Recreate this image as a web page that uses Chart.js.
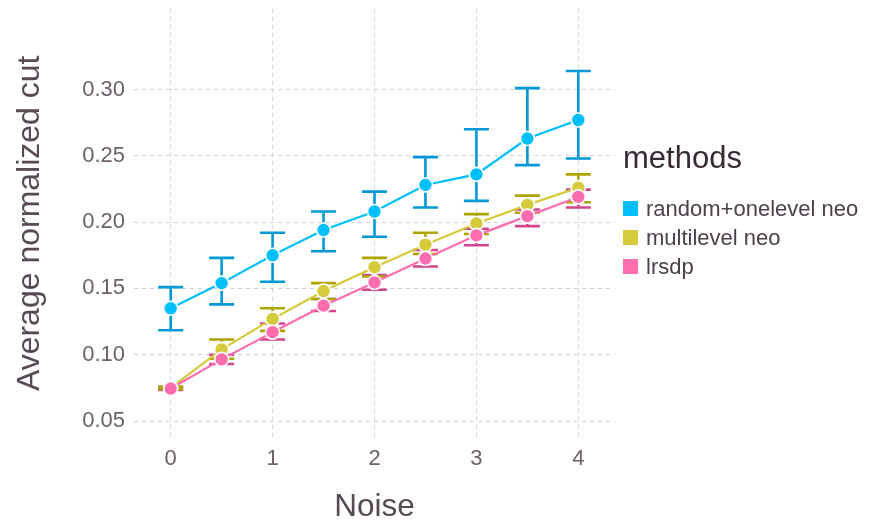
<!DOCTYPE html>
<html>
<head>
<meta charset="utf-8">
<title>Average normalized cut vs noise</title>
<script src="https://cdn.jsdelivr.net/npm/chart.js@4/dist/chart.umd.min.js"></script>
<style>
  html, body { margin: 0; padding: 0; background: #ffffff; }
  #wrap { width: 869px; height: 526px; }
</style>
</head>
<body>
<div id="wrap"><canvas id="c" width="869" height="526"></canvas></div>
<script>
// Noise levels on the x axis
const noise = [0, 0.5, 1, 1.5, 2, 2.5, 3, 3.5, 4];

// random+onelevel neo: mean and error range
const randomMean = [0.135, 0.154, 0.175, 0.194, 0.208, 0.228, 0.236, 0.263, 0.277];
const randomLo   = [0.1185, 0.138, 0.155, 0.178, 0.189, 0.211, 0.216, 0.243, 0.248];
const randomHi   = [0.151, 0.173, 0.192, 0.208, 0.223, 0.249, 0.270, 0.301, 0.314];

// multilevel neo
const multiMean = [0.075, 0.104, 0.127, 0.148, 0.166, 0.183, 0.199, 0.213, 0.226];
const multiLo   = [0.074, 0.097, 0.118, 0.142, 0.159, 0.176, 0.191, 0.207, 0.215];
const multiHi   = [0.076, 0.1115, 0.135, 0.154, 0.173, 0.192, 0.206, 0.220, 0.236];

// lrsdp
const lrsdpMean = [0.0745, 0.0965, 0.117, 0.137, 0.1545, 0.1725, 0.190, 0.2045, 0.219];
const lrsdpLo   = [0.0735, 0.093, 0.1115, 0.133, 0.149, 0.1665, 0.1825, 0.197, 0.211];
const lrsdpHi   = [0.0755, 0.100, 0.1235, 0.142, 0.160, 0.179, 0.195, 0.2095, 0.2245];

// Tick values
const xTicks = [0, 1, 2, 3, 4];
const yTicks = [0.05, 0.10, 0.15, 0.20, 0.25, 0.30];

const methodNames = ['random+onelevel neo', 'multilevel neo', 'lrsdp'];

const FONT = '"Liberation Sans", Arial, Helvetica, sans-serif';
const TICK_COLOR = '#6c606b';
const TITLE_COLOR = '#564a55';
const GRID_COLOR = '#d0d0e0';

function points(ys) {
  return noise.map((x, i) => ({ x: x, y: ys[i] }));
}

function makeSeries(label, mean, lo, hi, color, barColor, order) {
  return {
    label: label,
    data: points(mean),
    errLo: lo,
    errHi: hi,
    errColor: barColor,
    borderColor: color,
    backgroundColor: color,
    borderWidth: 2.2,
    pointRadius: 7,
    pointHoverRadius: 7,
    pointBackgroundColor: color,
    pointBorderColor: '#ffffff',
    pointBorderWidth: 1.6,
    tension: 0,
    fill: false,
    order: order
  };
}

// Vertical error bars with caps, drawn beneath the lines and points
const errorBars = {
  id: 'errorBars',
  beforeDatasetsDraw(chart) {
    const ctx = chart.ctx;
    const xs = chart.scales.x, ys = chart.scales.y;
    const cap = 12.5;
    ctx.save();
    chart.data.datasets.slice().reverse().forEach(ds => {
      ctx.strokeStyle = ds.errColor;
      ctx.lineWidth = 2.6;
      ds.data.forEach((p, i) => {
        const px = xs.getPixelForValue(p.x);
        const yl = ys.getPixelForValue(ds.errLo[i]);
        const yh = ys.getPixelForValue(ds.errHi[i]);
        ctx.beginPath();
        ctx.moveTo(px, yl); ctx.lineTo(px, yh);
        ctx.moveTo(px - cap, yl); ctx.lineTo(px + cap, yl);
        ctx.moveTo(px - cap, yh); ctx.lineTo(px + cap, yh);
        ctx.stroke();
      });
    });
    ctx.restore();
  }
};

// Key on the right: title plus a coloured square per method
const methodKey = {
  id: 'methodKey',
  afterDraw(chart) {
    const ctx = chart.ctx;
    const x0 = chart.chartArea.right + 8;
    ctx.save();
    ctx.textAlign = 'left';
    ctx.textBaseline = 'alphabetic';
    ctx.fillStyle = '#362a35';
    ctx.font = '31px ' + FONT;
    ctx.fillText('methods', x0, 168);
    ctx.font = '22px ' + FONT;
    ctx.textBaseline = 'middle';
    chart.data.datasets.forEach((ds, i) => {
      const cy = 208.5 + i * 29;
      ctx.fillStyle = ds.backgroundColor;
      ctx.fillRect(x0, cy - 7.5, 15, 15);
      ctx.fillStyle = '#4c404b';
      ctx.fillText(ds.label, x0 + 23, cy + 1);
    });
    ctx.restore();
  }
};

new Chart(document.getElementById('c'), {
  type: 'line',
  data: {
    datasets: [
      makeSeries(methodNames[0], randomMean, randomLo, randomHi, '#00bfff', '#0098d6', 2),
      makeSeries(methodNames[1], multiMean, multiLo, multiHi, '#d4ca3a', '#aea400', 1),
      makeSeries(methodNames[2], lrsdpMean, lrsdpLo, lrsdpHi, '#ff6dae', '#d1468b', 0)
    ]
  },
  options: {
    responsive: false,
    animation: false,
    layout: { padding: { top: 8, right: 254, bottom: 0, left: 0 } },
    plugins: {
      legend: { display: false },
      tooltip: { enabled: false }
    },
    scales: {
      x: {
        type: 'linear',
        min: -0.36,
        max: 4.36,
        afterBuildTicks(scale) { scale.ticks = xTicks.map(v => ({ value: v })); },
        afterFit(scale) {
          scale.height = 88;
          scale.paddingLeft = 0;
          scale.paddingRight = 0;
        },
        border: { display: false, dash: [4, 4] },
        grid: { color: GRID_COLOR, lineWidth: 1, drawTicks: false },
        ticks: {
          color: TICK_COLOR,
          font: { family: FONT, size: 22 },
          padding: 8,
          maxRotation: 0,
          callback: v => String(v)
        },
        title: {
          display: true,
          text: 'Noise',
          color: TITLE_COLOR,
          font: { family: FONT, size: 31.5 },
          padding: { top: 0, bottom: 0 }
        }
      },
      y: {
        type: 'linear',
        min: 0.0372,
        max: 0.361,
        afterBuildTicks(scale) { scale.ticks = yTicks.map(v => ({ value: v })); },
        afterFit(scale) {
          scale.width = 134;
          scale.paddingTop = 0;
          scale.paddingBottom = 0;
        },
        border: { display: false, dash: [4, 4] },
        grid: { color: GRID_COLOR, lineWidth: 1, drawTicks: false },
        ticks: {
          color: TICK_COLOR,
          font: { family: FONT, size: 22 },
          padding: 9,
          callback: v => v.toFixed(2)
        },
        title: {
          display: true,
          text: 'Average normalized cut',
          color: TITLE_COLOR,
          font: { family: FONT, size: 32 },
          padding: { top: 11, bottom: 0 }
        }
      }
    }
  },
  plugins: [errorBars, methodKey]
});
</script>
</body>
</html>
